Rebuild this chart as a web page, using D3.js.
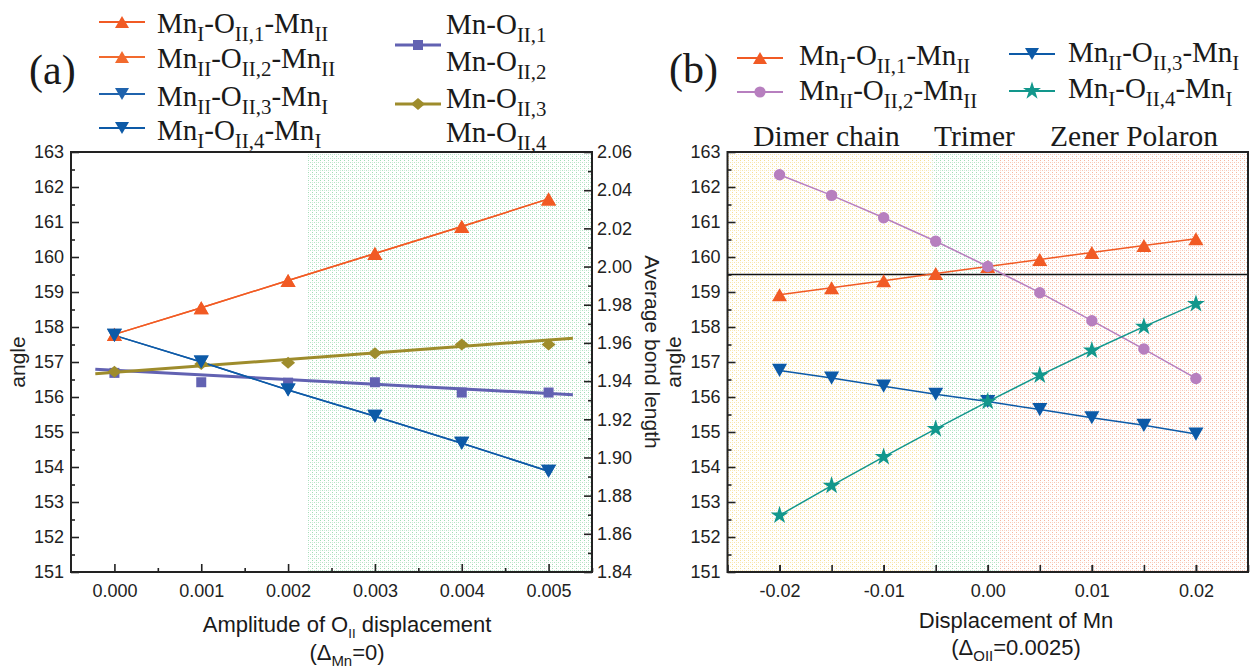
<!DOCTYPE html>
<html><head><meta charset="utf-8">
<script src="https://cdn.jsdelivr.net/npm/d3@7"></script>
<style>body{margin:0;background:#fff;} svg{display:block;}</style>
</head><body><svg id="c" width="1250" height="669"></svg>
<script>
// ---------- DATA: panel (a) ----------
const xA = [0, 0.001, 0.002, 0.003, 0.004, 0.005];
const angleA1 = [157.79, 158.55, 159.33, 160.10, 160.87, 161.66]; // MnI-OII,1-MnII
const angleA2 = [157.79, 158.55, 159.33, 160.10, 160.87, 161.66]; // MnII-OII,2-MnII
const angleA3 = [157.76, 157.00, 156.20, 155.45, 154.68, 153.88]; // MnII-OII,3-MnI
const angleA4 = [157.76, 157.00, 156.20, 155.45, 154.68, 153.88]; // MnI-OII,4-MnI
const bondA12 = [1.9443, 1.9394, 1.9392, 1.9394, 1.9340, 1.9340]; // Mn-OII,1 / Mn-OII,2
const bondA34 = [1.9449, 1.9489, 1.9496, 1.9546, 1.9592, 1.9592]; // Mn-OII,3 / Mn-OII,4
const fitXA = [-0.00022, 0.00528];
const fitBondA12 = [1.9462, 1.9328];
const fitBondA34 = [1.9438, 1.9625];
const shadeA = [0.00223, 0.0055];
const xTicksA = [0, 0.001, 0.002, 0.003, 0.004, 0.005];
const yTicksA = [151,152,153,154,155,156,157,158,159,160,161,162,163];
const yTicksR = [1.84,1.86,1.88,1.90,1.92,1.94,1.96,1.98,2.00,2.02,2.04,2.06];

// ---------- DATA: panel (b) ----------
const xB = [-0.02, -0.015, -0.01, -0.005, 0, 0.005, 0.01, 0.015, 0.02];
const angleB1 = [158.92, 159.12, 159.32, 159.53, 159.73, 159.93, 160.13, 160.33, 160.52];
const angleB2 = [162.35, 161.76, 161.12, 160.45, 159.73, 158.98, 158.18, 157.37, 156.53];
const angleB3 = [156.76, 156.54, 156.31, 156.08, 155.87, 155.64, 155.41, 155.19, 154.94];
const angleB4 = [152.62, 153.47, 154.29, 155.09, 155.87, 156.62, 157.33, 158.01, 158.66];
const refAngleB = 159.5;
const regionNamesB = ["Dimer chain", "Trimer", "Zener Polaron"];
const regionBoundsB = [-0.025, -0.0053, 0.0011, 0.025];
const xTicksB = [-0.02, -0.01, 0, 0.01, 0.02];
const xMinorB = [-0.025,-0.02,-0.015,-0.01,-0.005,0,0.005,0.01,0.015,0.02,0.025];
const yTicksB = [151,152,153,154,155,156,157,158,159,160,161,162,163];

// ---------- styles ----------
const C = {orange:"#f15a24", orange2:"#f26a2e", blue:"#0d5aa7", blue2:"#1f63ad", purple:"#6262b2",
           olive:"#9e8c2c", pink:"#b77fbf", teal:"#12978c"};
const SERIF = "'Liberation Serif','Times New Roman',serif";
const SANS = "'Liberation Sans',Arial,sans-serif";

const svg = d3.select("#c");
const defs = svg.append("defs");
function pattern(id, col){
  const p = defs.append("pattern").attr("id", id).attr("patternUnits","userSpaceOnUse")
    .attr("width",4).attr("height",4);
  p.append("rect").attr("width",4).attr("height",4).attr("fill","#ffffff");
  p.append("rect").attr("x",0).attr("y",0).attr("width",1).attr("height",1).attr("fill",col).attr("opacity",0.85);
  p.append("rect").attr("x",0).attr("y",2).attr("width",1).attr("height",1).attr("fill",col).attr("opacity",0.45);
  p.append("rect").attr("x",2).attr("y",2).attr("width",1).attr("height",1).attr("fill",col).attr("opacity",0.65);
}
pattern("pGreen", "#8fd6a8");
pattern("pYellow", "#f5d77e");
pattern("pRed", "#f5a98e");

function triUp(s){const h=s*0.87; return `M0,${-h/2}L${s/2},${h/2}L${-s/2},${h/2}Z`;}
function triDown(s){const h=s*0.87; return `M0,${h/2}L${s/2},${-h/2}L${-s/2},${-h/2}Z`;}
function diamond(w,h){return `M0,${-h/2}L${w/2},0L0,${h/2}L${-w/2},0Z`;}
const starPath = d3.symbol().type(d3.symbolStar).size(100)();

function drawMarkers(g, xs, ys, x, y, pathStr, color, kind){
  const sel = g.append("g").selectAll("g").data(xs.map((d,i)=>[d, ys[i]])).join("g")
    .attr("transform", d=>`translate(${x(d[0])},${y(d[1])})`);
  if(kind==="circle") sel.append("circle").attr("r",5.7).attr("fill",color);
  else sel.append("path").attr("d",pathStr).attr("fill",color);
}
function drawLine(g, xs, ys, x, y, color, w){
  g.append("path").datum(xs.map((d,i)=>[d, ys[i]]))
    .attr("d", d3.line().x(d=>x(d[0])).y(d=>y(d[1])))
    .attr("fill","none").attr("stroke",color).attr("stroke-width",w);
}
function rich(g, x, y, parts, size, family, anchor, subScale){
  const ss = subScale || 0.68;
  const t = g.append("text").attr("x",x).attr("y",y).attr("font-family",family)
    .attr("font-size",size).attr("fill","#1a1a1a").attr("text-anchor",anchor||"start");
  let shifted = false;
  parts.forEach(p=>{
    const ts = t.append("tspan").text(p[0]);
    if(p[1]){ ts.attr("font-size", size*ss); if(!shifted){ts.attr("dy", size*0.26); shifted=true;} }
    else { ts.attr("font-size", size); if(shifted){ts.attr("dy", -size*0.26); shifted=false;} }
  });
  return t;
}
const hyph = f => d => f(d).replace("\u2212","-");

// ---------- PANEL (a) ----------
const A = {l:71, r:592, t:152, b:572};
const xa = d3.scaleLinear().domain([-0.0005, 0.0055]).range([A.l, A.r]);
const ya = d3.scaleLinear().domain([151, 163]).range([A.b, A.t]);
const yr = d3.scaleLinear().domain([1.84, 2.06]).range([A.b, A.t]);
const ga = svg.append("g");
ga.append("rect").attr("x", xa(shadeA[0])).attr("y", A.t).attr("width", xa(shadeA[1])-xa(shadeA[0]))
  .attr("height", A.b-A.t).attr("fill","url(#pGreen)");

function styleAxis(sel){
  sel.select(".domain").remove();
  sel.selectAll("line").attr("stroke","#222").attr("stroke-width",1.6);
  sel.selectAll("text").attr("font-family",SANS).attr("font-size",18).attr("fill","#222");
}
ga.append("g").attr("transform",`translate(0,${A.b})`)
  .call(d3.axisBottom(xa).tickValues(xTicksA).tickSize(-8).tickPadding(12).tickFormat(d3.format(".3f"))).call(styleAxis);
ga.append("g").attr("transform",`translate(0,${A.b})`)
  .call(d3.axisBottom(xa).tickValues(xTicksA.map(d=>d+0.0005)).tickSize(-4).tickFormat("")).call(styleAxis);
ga.append("g").attr("transform",`translate(${A.l},0)`)
  .call(d3.axisLeft(ya).tickValues(yTicksA).tickSize(-8).tickPadding(7)).call(styleAxis);
ga.append("g").attr("transform",`translate(${A.l},0)`)
  .call(d3.axisLeft(ya).tickValues(yTicksA.slice(0,-1).map(d=>d+0.5)).tickSize(-4).tickFormat("")).call(styleAxis);
ga.append("g").attr("transform",`translate(${A.r},0)`)
  .call(d3.axisRight(yr).tickValues(yTicksR).tickSize(-8).tickPadding(5).tickFormat(d3.format(".2f"))).call(styleAxis);
ga.append("g").attr("transform",`translate(${A.r},0)`)
  .call(d3.axisRight(yr).tickValues(yTicksR.slice(0,-1).map(d=>d+0.01)).tickSize(-4).tickFormat("")).call(styleAxis);

drawLine(ga, xA, angleA2, xa, ya, C.orange2, 1.5);
drawLine(ga, xA, angleA1, xa, ya, C.orange, 1.5);
drawLine(ga, fitXA, fitBondA12, xa, yr, C.purple, 3);
drawLine(ga, fitXA, fitBondA34, xa, yr, C.olive, 3);
drawLine(ga, xA, angleA4, xa, ya, C.blue2, 1.5);
drawLine(ga, xA, angleA3, xa, ya, C.blue, 1.5);
drawMarkers(ga, xA, angleA2, xa, ya, triUp(15), C.orange2);
drawMarkers(ga, xA, angleA1, xa, ya, triUp(15), C.orange);
drawMarkers(ga, xA, bondA12, xa, yr, "M-5,-5H5V5H-5Z", C.purple);
drawMarkers(ga, xA, bondA34, xa, yr, diamond(14,12), C.olive);
drawMarkers(ga, xA, angleA4, xa, ya, triDown(15), C.blue2);
drawMarkers(ga, xA, angleA3, xa, ya, triDown(15), C.blue);

ga.append("rect").attr("x",A.l).attr("y",A.t).attr("width",A.r-A.l).attr("height",A.b-A.t)
  .attr("fill","none").attr("stroke","#222").attr("stroke-width",2);

ga.append("text").attr("transform",`translate(25,362) rotate(-90)`).attr("text-anchor","middle")
  .attr("font-family",SANS).attr("font-size",21).attr("fill","#222").text("angle");
ga.append("text").attr("transform",`translate(645,352) rotate(90)`).attr("text-anchor","middle")
  .attr("font-family",SANS).attr("font-size",21).attr("fill","#222").text("Average bond length");
rich(ga, 347, 632, [["Amplitude of O"],["II",1],[" displacement"]], 22, SANS, "middle", 0.6);
rich(ga, 347, 660, [["(Δ"],["Mn",1],["=0)"]], 22, SANS, "middle", 0.68);
ga.append("text").attr("x",29).attr("y",84).attr("font-family",SERIF).attr("font-size",42).attr("fill","#1a1a1a").text("(a)");

function legSym(g, x1, x2, y, color, shape, kind){
  g.append("line").attr("x1",x1).attr("x2",x2).attr("y1",y).attr("y2",y).attr("stroke",color).attr("stroke-width",kind==="thick"?3:1.8);
  const m = g.append("g").attr("transform",`translate(${(x1+x2)/2},${y})`);
  if(shape==="circle") m.append("circle").attr("r",5.6).attr("fill",color);
  else m.append("path").attr("d",shape).attr("fill",color);
}
const LS = 29, SUB = 0.72;
legSym(ga, 99, 145, 22, C.orange, triUp(14));
rich(ga, 157, 33, [["Mn"],["I",1],["-O"],["II,1",1],["-Mn"],["II",1]], LS, SERIF, "start", SUB);
legSym(ga, 99, 145, 57, C.orange2, triUp(14));
rich(ga, 157, 68, [["Mn"],["II",1],["-O"],["II,2",1],["-Mn"],["II",1]], LS, SERIF, "start", SUB);
legSym(ga, 99, 145, 94, C.blue2, triDown(14));
rich(ga, 157, 106, [["Mn"],["II",1],["-O"],["II,3",1],["-Mn"],["I",1]], LS, SERIF, "start", SUB);
legSym(ga, 99, 145, 128, C.blue, triDown(14));
rich(ga, 157, 140, [["Mn"],["I",1],["-O"],["II,4",1],["-Mn"],["I",1]], LS, SERIF, "start", SUB);
legSym(ga, 395, 441, 45, C.purple, "M-5,-5H5V5H-5Z", "thick");
rich(ga, 446, 34, [["Mn-O"],["II,1",1]], LS, SERIF, "start", SUB);
rich(ga, 446, 71, [["Mn-O"],["II,2",1]], LS, SERIF, "start", SUB);
legSym(ga, 395, 441, 104, C.olive, diamond(14,12), "thick");
rich(ga, 446, 108, [["Mn-O"],["II,3",1]], LS, SERIF, "start", SUB);
rich(ga, 446, 142, [["Mn-O"],["II,4",1]], LS, SERIF, "start", SUB);

// ---------- PANEL (b) ----------
const B = {l:727.5, r:1248, t:152, b:572};
const xb = d3.scaleLinear().domain([-0.025, 0.025]).range([B.l, B.r]);
const yb = d3.scaleLinear().domain([151, 163]).range([B.b, B.t]);
const gb = svg.append("g");
const fills = ["url(#pYellow)","url(#pGreen)","url(#pRed)"];
regionNamesB.forEach((n,i)=>{
  gb.append("rect").attr("x", xb(regionBoundsB[i])).attr("y",B.t)
    .attr("width", xb(regionBoundsB[i+1])-xb(regionBoundsB[i])).attr("height",B.b-B.t).attr("fill",fills[i]);
});
const headX = [826.5, 974.5, 1134];
regionNamesB.forEach((n,i)=>{
  gb.append("text").attr("x",headX[i]).attr("y",146).attr("text-anchor","middle")
    .attr("font-family",SERIF).attr("font-size",29.5).attr("fill","#1a1a1a").text(n);
});

gb.append("g").attr("transform",`translate(0,${B.b})`)
  .call(d3.axisBottom(xb).tickValues(xMinorB).tickSize(-7).tickFormat("")).call(styleAxis);
gb.append("g").attr("transform",`translate(0,${B.b})`)
  .call(d3.axisBottom(xb).tickValues(xTicksB).tickSize(-7).tickPadding(12).tickFormat(hyph(d3.format(".2f")))).call(styleAxis);
gb.append("g").attr("transform",`translate(${B.l},0)`)
  .call(d3.axisLeft(yb).tickValues(yTicksB).tickSize(-8).tickPadding(7)).call(styleAxis);
gb.append("g").attr("transform",`translate(${B.l},0)`)
  .call(d3.axisLeft(yb).tickValues(yTicksB.slice(0,-1).map(d=>d+0.5)).tickSize(-4).tickFormat("")).call(styleAxis);

gb.append("line").attr("x1",B.l).attr("x2",B.r).attr("y1",yb(refAngleB)).attr("y2",yb(refAngleB))
  .attr("stroke","#111").attr("stroke-width",1.3);

drawLine(gb, xB, angleB1, xb, yb, C.orange, 1.5);
drawLine(gb, xB, angleB2, xb, yb, C.pink, 1.5);
drawLine(gb, xB, angleB3, xb, yb, C.blue, 1.5);
drawLine(gb, xB, angleB4, xb, yb, C.teal, 1.5);
drawMarkers(gb, xB, angleB1, xb, yb, triUp(15), C.orange);
drawMarkers(gb, xB, angleB2, xb, yb, null, C.pink, "circle");
drawMarkers(gb, xB, angleB3, xb, yb, triDown(15), C.blue);
drawMarkers(gb, xB, angleB4, xb, yb, starPath, C.teal);

gb.append("rect").attr("x",B.l).attr("y",B.t).attr("width",B.r-B.l).attr("height",B.b-B.t)
  .attr("fill","none").attr("stroke","#222").attr("stroke-width",2);

gb.append("text").attr("transform",`translate(681,362) rotate(-90)`).attr("text-anchor","middle")
  .attr("font-family",SANS).attr("font-size",21).attr("fill","#222").text("angle");
rich(gb, 1016, 628, [["Displacement of Mn"]], 22, SANS, "middle");
rich(gb, 1016, 655, [["(Δ"],["OII",1],["=0.0025)"]], 22, SANS, "middle");
gb.append("text").attr("x",669).attr("y",83).attr("font-family",SERIF).attr("font-size",42).attr("fill","#1a1a1a").text("(b)");

legSym(gb, 737, 783, 58, C.orange, triUp(14));
rich(gb, 799, 65, [["Mn"],["I",1],["-O"],["II,1",1],["-Mn"],["II",1]], LS, SERIF, "start", SUB);
legSym(gb, 737, 783, 92, C.pink, "circle");
rich(gb, 799, 100, [["Mn"],["II",1],["-O"],["II,2",1],["-Mn"],["II",1]], LS, SERIF, "start", SUB);
legSym(gb, 1009, 1055, 54, C.blue, triDown(14));
rich(gb, 1068, 62, [["Mn"],["II",1],["-O"],["II,3",1],["-Mn"],["I",1]], LS, SERIF, "start", SUB);
legSym(gb, 1009, 1055, 91, C.teal, starPath);
rich(gb, 1068, 98, [["Mn"],["I",1],["-O"],["II,4",1],["-Mn"],["I",1]], LS, SERIF, "start", SUB);
</script></body></html>
